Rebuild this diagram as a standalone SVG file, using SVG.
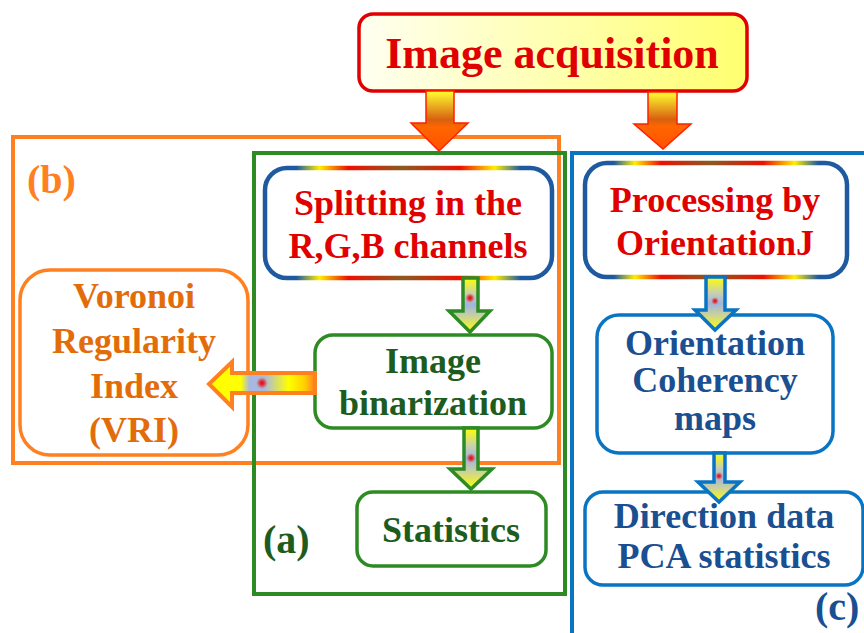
<svg xmlns="http://www.w3.org/2000/svg" width="864" height="633" viewBox="0 0 864 633">
<style>
text{font-family:"Liberation Serif","Times New Roman",serif;font-weight:bold;text-anchor:middle}
.red{fill:#e00000;font-size:36px}
.grn{fill:#1e5c1e;font-size:36px}
.blu{fill:#1a4f91;font-size:36px}
.org{fill:#e36c0a;font-size:36px}
.lbl{font-size:40px;text-anchor:start}
.frame{fill:none;stroke-width:4}
.rain{fill:#fff;stroke:url(#rain);stroke-width:4.5}
.gbox{fill:#fff;stroke:#2e8b24;stroke-width:3.5}
.bbox{fill:#fff;stroke:#0a74c4;stroke-width:3.5}
.obox{fill:#fff;stroke:#ff8020;stroke-width:3.5}
.acq{fill:url(#acqArrow);stroke:#ff2000;stroke-width:1.5}
.varr{fill:url(#vgrad);stroke-width:3.5;stroke-linejoin:miter}
</style>
<defs>
<linearGradient id="acqFill" x1="0" y1="0" x2="1" y2="0">
<stop offset="0" stop-color="#fffff2"/><stop offset="1" stop-color="#ffff70"/>
</linearGradient>
<linearGradient id="rain" x1="0" y1="0" x2="1" y2="0">
<stop offset="0" stop-color="#1f5aa0"/><stop offset="0.11" stop-color="#1f5aa0"/>
<stop offset="0.19" stop-color="#ffee00"/><stop offset="0.29" stop-color="#ee1000"/>
<stop offset="0.48" stop-color="#8a5a20"/><stop offset="0.68" stop-color="#ee1000"/>
<stop offset="0.8" stop-color="#ffee00"/><stop offset="0.89" stop-color="#1f5aa0"/>
<stop offset="1" stop-color="#1f5aa0"/>
</linearGradient>
<linearGradient id="acqArrow" x1="0" y1="0" x2="0" y2="1">
<stop offset="0" stop-color="#ffff30"/><stop offset="0.48" stop-color="#d86010"/>
<stop offset="0.6" stop-color="#ff6600"/><stop offset="1" stop-color="#ff5000"/>
</linearGradient>
<linearGradient id="vgrad" x1="0" y1="0" x2="0" y2="1">
<stop offset="0" stop-color="#ffff00"/><stop offset="0.3" stop-color="#c8d0b0"/>
<stop offset="0.5" stop-color="#a0b4e0"/><stop offset="0.7" stop-color="#c8d0a0"/>
<stop offset="1" stop-color="#ffff00"/>
</linearGradient>
<linearGradient id="hgrad" x1="0" y1="0" x2="1" y2="0">
<stop offset="0" stop-color="#ffff00"/><stop offset="0.3" stop-color="#ffff00"/>
<stop offset="0.38" stop-color="#a8b8e0"/><stop offset="0.52" stop-color="#a8b8e0"/>
<stop offset="0.75" stop-color="#ffff00"/><stop offset="0.9" stop-color="#ffd000"/>
<stop offset="1" stop-color="#ff8020"/>
</linearGradient>
<radialGradient id="dot">
<stop offset="0" stop-color="#e00010"/><stop offset="0.45" stop-color="#e03030" stop-opacity="0.85"/>
<stop offset="1" stop-color="#e06060" stop-opacity="0"/>
</radialGradient>
</defs>

<g id="frames">
<rect id="frame-b" class="frame" x="13" y="137" width="546" height="326" stroke="#ff8020"/>
<rect id="frame-a" class="frame" x="254" y="153" width="311" height="441" stroke="#2e8b24"/>
<path id="frame-c" class="frame" d="M572,640 V153 H870" stroke="#0a74c4"/>
<text class="lbl" x="27" y="193" fill="#ff8020">(b)</text>
<text class="lbl" x="263" y="553" fill="#1e5c1e">(a)</text>
<text class="lbl" x="815" y="620" fill="#1a4f91">(c)</text>
</g>

<g id="acquisition">
<rect x="359" y="14" width="388" height="77" rx="14" fill="url(#acqFill)" stroke="#e00000" stroke-width="3.5"/>
<text x="552" y="68" fill="#e00000" font-size="44">Image acquisition</text>
</g>

<g id="splitting">
<rect class="rain" x="265" y="168" width="287" height="110" rx="22"/>
<text class="red" x="408" y="215">Splitting in the</text>
<text class="red" x="408" y="258">R,G,B channels</text>
</g>

<g id="processing">
<rect class="rain" x="585" y="163" width="262" height="114" rx="22"/>
<text class="red" x="715" y="212">Processing by</text>
<text class="red" x="715" y="255">OrientationJ</text>
</g>

<g id="binarization">
<rect class="gbox" x="315" y="335" width="237" height="93" rx="18"/>
<text class="grn" x="433" y="373">Image</text>
<text class="grn" x="433" y="415">binarization</text>
</g>

<g id="statistics">
<rect class="gbox" x="357" y="492" width="189" height="74" rx="16"/>
<text class="grn" x="451" y="542">Statistics</text>
</g>

<g id="voronoi">
<rect class="obox" x="20" y="270" width="228" height="185" rx="30"/>
<text class="org" x="134" y="308">Voronoi</text>
<text class="org" x="134" y="353">Regularity</text>
<text class="org" x="134" y="398">Index</text>
<text class="org" x="134" y="442">(VRI)</text>
</g>

<g id="coherency">
<rect class="bbox" x="597" y="315" width="236" height="138" rx="22"/>
<text class="blu" x="715" y="355" font-size="33">Orientation</text>
<text class="blu" x="715" y="392" font-size="33">Coherency</text>
<text class="blu" x="715" y="430" font-size="33">maps</text>
</g>

<g id="direction">
<rect class="bbox" x="585" y="492" width="278" height="93" rx="18"/>
<text class="blu" x="724" y="528">Direction data</text>
<text class="blu" x="724" y="568">PCA statistics</text>
</g>

<g id="connectors">
<polygon class="acq" points="426,91 454,91 454,123 468,123 439,151 411,123 426,123"/>
<polygon class="acq" points="648,92 677,92 677,124 691,124 663,149 634,124 648,124"/>
<polygon class="varr" stroke="#2e8b24" points="463,278 478,278 478,311 490,311 470,332 449,311 463,311"/>
<circle cx="470" cy="298" r="5" fill="url(#dot)"/>
<polygon class="varr" stroke="#2e8b24" points="464,428 478,428 478,469 492,469 471,489 450,469 464,469"/>
<circle cx="471" cy="458" r="5" fill="url(#dot)"/>
<polygon class="varr" stroke="#0a74c4" points="706,277 725,277 725,310 736,310 715,330 695,310 706,310"/>
<circle cx="715" cy="301" r="4" fill="url(#dot)"/>
<polygon class="varr" stroke="#0a74c4" points="714,453 725,453 725,482 740,482 719,502 698,482 714,482"/>
<circle cx="719" cy="476" r="4" fill="url(#dot)"/>
<polygon fill="url(#hgrad)" stroke="#ff8020" stroke-width="4" points="315,373 315,393 232,393 232,407 209,384 232,362 232,373"/>
<circle cx="262" cy="383" r="6" fill="url(#dot)"/>
</g>
</svg>
